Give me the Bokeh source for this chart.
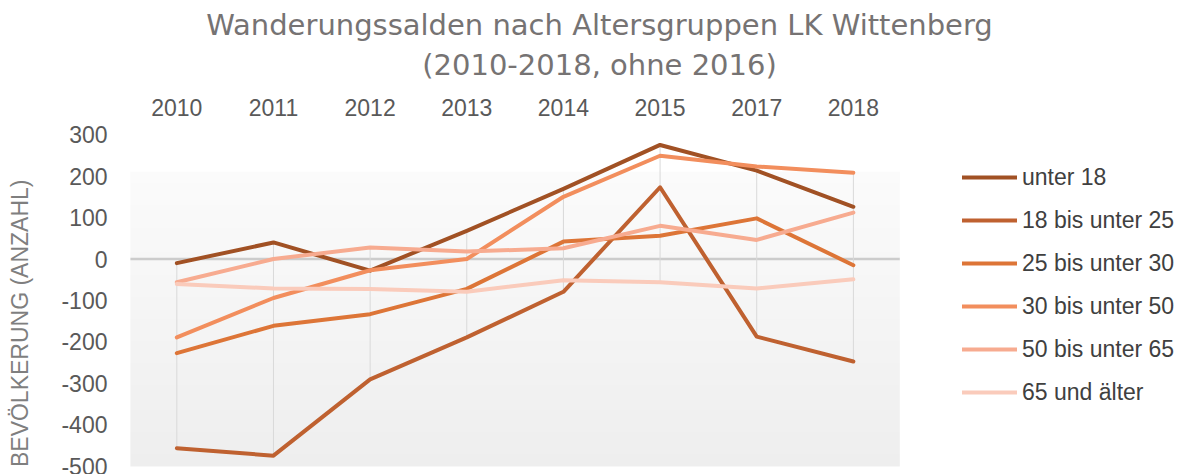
import math
import numpy as np
from bokeh.plotting import figure
from bokeh.layouts import column, row
from bokeh.models import Range1d, FixedTicker, Legend, LegendItem, Label
from bokeh.embed import file_html
from bokeh.resources import INLINE

# ---------------- data ----------------
categories = ["2010", "2011", "2012", "2013", "2014", "2015", "2017", "2018"]
series_names = ["unter 18", "18 bis unter 25", "25 bis unter 30",
                "30 bis unter 50", "50 bis unter 65", "65 und älter"]
unter_18 = [-10, 40, -28, 68, 169, 275, 213, 126]
von_18_bis_25 = [-456, -474, -290, -189, -79, 173, -187, -247]
von_25_bis_30 = [-227, -161, -133, -72, 42, 56, 98, -15]
von_30_bis_50 = [-189, -94, -27, 0, 150, 249, 223, 208]
von_50_bis_65 = [-56, 0, 28, 18, 26, 80, 46, 112]
ab_65 = [-60, -71, -72, -79, -51, -56, -71, -49]
y_ticks = [-500, -400, -300, -200, -100, 0, 100, 200, 300]

series = [unter_18, von_18_bis_25, von_25_bis_30, von_30_bis_50, von_50_bis_65, ab_65]
colors = ["#A15124", "#BF6130", "#DD7537", "#F28E5D", "#F7AB90", "#FACBBB"]

title_line1 = "Wanderungssalden nach Altersgruppen LK Wittenberg"
title_line2 = "(2010-2018, ohne 2016)"
y_label = "BEVÖLKERUNG (ANZAHL)"

FONT = "Liberation Sans"
TITLE_FONT = "DejaVu Sans"
TITLE_COLOR = "#767373"

# ---------------- layout sizes ----------------
W, H = 1181, 474
TH = 84            # title strip height
YW = 40            # y-label strip width
MH = H - TH        # main row height
MW = W - YW        # main figure width
L, T, FH = 128 - YW, 132 - TH, 336
PX_PER_CAT = 96.65
FW = MW - L
x_end = -0.5 + FW / PX_PER_CAT   # frame extends right to hold the legend
BASE_SHIFT = 12                  # compensates Label baseline placement


def blank(width, height):
    f = figure(width=width, height=height, x_range=Range1d(0, 1), y_range=Range1d(0, 1),
               x_axis_type=None, y_axis_type=None,
               output_backend="svg", toolbar_location=None,
               min_border=0)
    f.outline_line_color = None
    f.xgrid.visible = False
    f.ygrid.visible = False
    f.background_fill_color = "white"
    f.border_fill_color = "white"
    return f


# ---------------- title strip ----------------
tf = blank(W, TH)
tf.add_layout(Label(x=599, y=TH - 36 + BASE_SHIFT, x_units="screen", y_units="screen",
                    text=title_line1, text_align="center", text_baseline="alphabetic",
                    text_font=TITLE_FONT, text_font_size="29px", text_color=TITLE_COLOR))
tf.add_layout(Label(x=599, y=TH - 76.7 + BASE_SHIFT, x_units="screen", y_units="screen",
                    text=title_line2, text_align="center", text_baseline="alphabetic",
                    text_font=TITLE_FONT, text_font_size="29px", text_color=TITLE_COLOR))

# ---------------- y-label strip ----------------
yf = blank(YW, MH)
yf.add_layout(Label(x=19, y=MH - (185 - TH), x_units="screen", y_units="screen",
                    text=y_label, angle=math.pi / 2,
                    text_align="right", text_baseline="middle",
                    text_font=FONT, text_font_size="23px", text_color="#7f7f7f"))

# ---------------- main chart ----------------
p = figure(width=MW, height=MH,
           x_range=Range1d(-0.5, x_end),
           y_range=Range1d(-505, 305),
           x_axis_location="above",
           output_backend="svg", toolbar_location=None,
           min_border_left=L, min_border_right=0,
           min_border_top=T, min_border_bottom=MH - T - FH)
p.outline_line_color = None
p.xgrid.visible = False
p.ygrid.visible = False
p.background_fill_color = "white"
p.border_fill_color = "white"

xs = list(range(len(categories)))
x_lo, x_hi = -0.5, len(categories) - 0.5

# plot-area gradient background
n = 120
img = np.empty((n, 1), dtype=np.uint32)
view = img.view(dtype=np.uint8).reshape((n, 1, 4))
for i in range(n):
    t = i / (n - 1)
    v = int(round(238 + (251 - 238) * t))
    view[i, 0, :] = [v, v, v, 255]
p.image_rgba(image=[img], x=x_lo + 0.02, y=-500, dw=(x_hi - x_lo) - 0.04, dh=710)

# zero line
p.segment(x0=[x_lo + 0.02], y0=[0], x1=[x_hi - 0.02], y1=[0], line_color="#cccccc", line_width=2.5)

# high-low lines
mins = [min(s[i] for s in series) for i in xs]
maxs = [max(s[i] for s in series) for i in xs]
p.segment(x0=xs, y0=mins, x1=xs, y1=maxs, line_color="#d9d9d9", line_width=1)

renderers = []
for name, vals, col in zip(series_names, series, colors):
    r = p.line(x=xs, y=vals, line_color=col, line_width=4,
               line_join="round", line_cap="round")
    renderers.append(r)

# axes
xa = p.xaxis[0]
xa.ticker = FixedTicker(ticks=xs)
xa.major_label_overrides = {i: c for i, c in enumerate(categories)}
xa.axis_line_color = None
xa.major_tick_line_color = None
xa.minor_tick_line_color = None
xa.major_tick_out = 0
xa.major_tick_in = 0
xa.major_label_standoff = 17
xa.major_label_text_font = FONT
xa.major_label_text_font_size = "23px"
xa.major_label_text_color = "#595959"

ya = p.yaxis[0]
ya.ticker = FixedTicker(ticks=y_ticks)
ya.major_label_overrides = {v: str(v) for v in y_ticks}
ya.axis_line_color = None
ya.major_tick_line_color = None
ya.minor_tick_line_color = None
ya.major_tick_out = 0
ya.major_tick_in = 0
ya.major_label_standoff = 21
ya.major_label_text_font = FONT
ya.major_label_text_font_size = "23px"
ya.major_label_text_color = "#595959"

# legend (inside the widened frame, right of the data area)
legend = Legend(items=[LegendItem(label=nm, renderers=[r]) for nm, r in zip(series_names, renderers)],
                location=(834, 61), orientation="vertical",
                glyph_width=55, glyph_height=30, label_height=30,
                label_standoff=5, spacing=13, padding=0, margin=0,
                border_line_color=None, background_fill_alpha=0,
                label_text_font=FONT, label_text_font_size="23px",
                label_text_color="#404040")
p.add_layout(legend)

layout = column(tf, row(yf, p, spacing=0), spacing=0)

open("out.html", "w").write(file_html(layout, INLINE))
